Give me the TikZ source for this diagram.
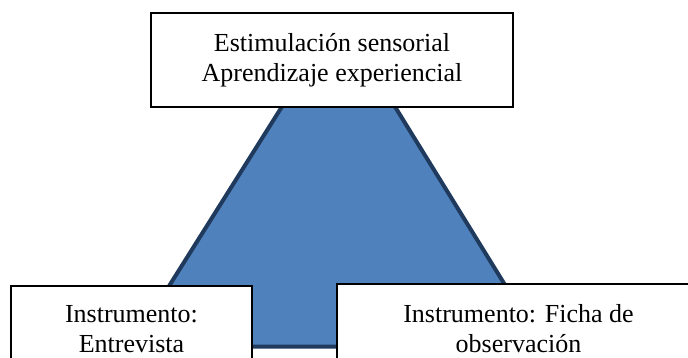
\documentclass[tikz,border=0pt]{standalone}
\usepackage{fontspec}
\setmainfont{Liberation Serif}
\definecolor{trifill}{HTML}{4F81BD}
\definecolor{triline}{HTML}{1F3A5C}
\begin{document}
\begin{tikzpicture}[x=1pt,y=-1pt,
  box/.style={draw=black,fill=white,line width=1.3pt,inner sep=0pt},
  txt/.style={anchor=base,font=\fontsize{26}{30}\selectfont,inner sep=0pt}]
\useasboundingbox (0,0) rectangle (688,358);
\clip (0,0) rectangle (688,358);
\coordinate (apex) at (339,16);
\coordinate (bl) at (131,346.5);
\coordinate (br) at (543,346.5);
\draw[fill=trifill,draw=triline,line width=4pt,line join=miter] (apex) -- (br) -- (bl) -- cycle;
\node[box,minimum width=362pt,minimum height=94pt] (topbox) at (332,60) {};
\node[box,minimum width=241pt,minimum height=134pt] (leftbox) at (131.5,353) {};
\node[box,minimum width=383pt,minimum height=136pt] (rightbox) at (528.5,352) {};
\node[txt] (t1) at (332,52) {Estimulación sensorial};
\node[txt] (t2) at (332,82) {Aprendizaje experiencial};
\node[txt] (l1) at (131.5,322) {Instrumento:};
\node[txt] (l2) at (131.5,352) {Entrevista};
\node[txt] (r1) at (518.5,322) {Instrumento: Ficha de};
\node[txt] (r2) at (518.5,352) {observación};
\end{tikzpicture}
\end{document}
